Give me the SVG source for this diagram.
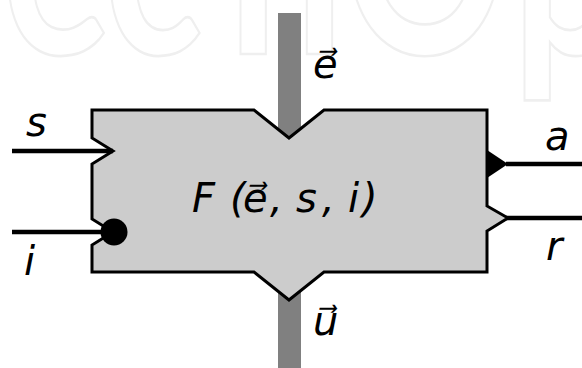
<svg xmlns="http://www.w3.org/2000/svg" width="582" height="368" viewBox="0 0 582 368">
  <style>
    .lbl { font-family: "DejaVu Sans", sans-serif; font-style: oblique; font-size: 40px; fill: #000; }
    .wire { stroke: #000; stroke-width: 4.5; fill: none; }
    .wm { font-family: Lato, "DejaVu Sans", sans-serif; font-weight: 700; font-size: 205px; fill: none; stroke: #efefef; stroke-width: 2; }
  </style>
  <rect width="582" height="368" fill="#fff"/>
  <text class="wm" transform="translate(0,54) scale(1,1.35)" x="2 104 228 342 512" y="0">echOp</text>
  <g id="flow-bar">
    <rect x="278" y="13" width="23" height="355" fill="#808080"/>
  </g>
  <g id="block-F">
    <path d="M92,110 L254,110 L289,138 L324,110 L487,110 L487,206 L508,218 L487,231 L487,272 L324,272 L289,300 L254,272 L92,272 L92,245 L113,232 L92,219 L92,164 L113,151 L92,138 Z" fill="#cccccc" stroke="#000" stroke-width="3" stroke-linejoin="miter"/>
    <text class="lbl" y="212"><tspan x="192">F</tspan><tspan x="230">(</tspan><tspan x="243">e⃗</tspan><tspan x="270">,</tspan><tspan x="296">s</tspan><tspan x="322">,</tspan><tspan x="348">i</tspan><tspan x="362">)</tspan></text>
  </g>
  <g id="connectors">
    <line class="wire" x1="12" y1="151" x2="113" y2="151"/>
    <line class="wire" x1="12" y1="232" x2="113" y2="232"/>
    <circle cx="114" cy="232" r="13.5" fill="#000"/>
    <line class="wire" x1="506" y1="164" x2="582" y2="164"/>
    <path d="M487,150 L508,164 L487,178 Z" fill="#000"/>
    <line class="wire" x1="506" y1="218" x2="582" y2="218"/>
  </g>
  <g id="labels">
    <text class="lbl" x="313" y="78">e⃗</text>
    <text class="lbl" x="313" y="335">u⃗</text>
    <text class="lbl" x="26" y="136">s</text>
    <text class="lbl" x="24" y="275">i</text>
    <text class="lbl" x="545" y="150">a</text>
    <text class="lbl" x="546" y="260">r</text>
  </g>
</svg>
